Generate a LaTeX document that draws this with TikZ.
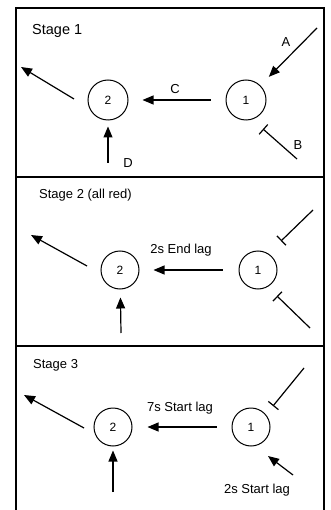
\documentclass[tikz,border=0pt]{standalone}
\usepackage{fontspec}
\setmainfont{Liberation Sans}
\usetikzlibrary{arrows.meta}
\begin{document}
\begin{tikzpicture}[x=1pt,y=-1pt,
  frame/.style={line width=1.3pt},
  arr/.style={line width=1.2pt,-{Triangle[length=11pt,width=9pt]}},
  tbar/.style={line width=1.2pt,-{Bar[width=13pt,line width=1.2pt]}},
  junc/.style={draw,circle,line width=1pt,minimum size=38pt,inner sep=0pt,font=\fontsize{12}{14}\selectfont},
  lbl/.style={font=\fontsize{13}{15}\selectfont,inner sep=0pt},
  title/.style={font=\fontsize{13}{15}\selectfont,inner sep=0pt,anchor=west}]
\useasboundingbox (0,0) rectangle (330,510);
% frame
\draw[frame] (16,512) -- (16,8) -- (324,8) -- (324,512);
\draw[frame] (16,177) -- (324,177);
\draw[frame] (16,346) -- (324,346);

% ---------- Stage 1 ----------
\node[title,font=\fontsize{14.5}{17}\selectfont] (t1) at (32,31) {Stage 1};
\node[junc,minimum size=40pt] (a2) at (108,100) {2};
\node[junc,minimum size=40pt] (a1) at (246,100) {1};
\draw[arr,shorten <=15pt,shorten >=14pt] (a1) -- (a2);
\node[lbl] (lC) at (175,89) {C};
\coordinate (aUL1) at (74,99);
\coordinate (aUL2) at (21,67);
\draw[arr] (aUL1) -- (aUL2);
\coordinate (aD) at (108,163);
\draw[arr,shorten >=6pt] (aD) -- (a2);
\node[lbl] (lD) at (128,163) {D};
\coordinate (aA) at (317,28);
\draw[arr,shorten >=12pt] (aA) -- (a1);
\node[lbl] (lA) at (286,42) {A};
\coordinate (aB1) at (297,159);
\coordinate (aB2) at (263,129);
\draw[tbar] (aB1) -- (aB2);
\node[lbl] (lB) at (298,145) {B};

% ---------- Stage 2 ----------
\node[title] (t2) at (39,195) {Stage 2 (all red)};
\node[junc] (b2) at (120,270) {2};
\node[junc] (b1) at (258,270) {1};
\draw[arr,shorten <=16pt,shorten >=14pt] (b1) -- (b2);
\node[lbl] (lE) at (181,250) {2s End lag};
\coordinate (bUL1) at (87,266);
\coordinate (bUL2) at (31,235);
\draw[arr] (bUL1) -- (bUL2);
\coordinate (bD) at (121,333);
\draw[arr,shorten >=8pt] (bD) -- (b2);
\coordinate (bR1) at (313,210);
\coordinate (bR2) at (281,241);
\draw[tbar] (bR1) -- (bR2);
\coordinate (bS1) at (310,328);
\coordinate (bS2) at (277,296);
\draw[tbar] (bS1) -- (bS2);

% ---------- Stage 3 ----------
\node[title] (t3) at (33,365) {Stage 3};
\node[junc] (c2) at (113,427) {2};
\node[junc] (c1) at (251,427) {1};
\draw[arr,shorten <=15pt,shorten >=15pt] (c1) -- (c2);
\node[lbl] (lS) at (180,408) {7s Start lag};
\coordinate (cUL1) at (84,428);
\coordinate (cUL2) at (24,395);
\draw[arr] (cUL1) -- (cUL2);
\coordinate (cD) at (113,492);
\draw[arr,shorten >=4pt] (cD) -- (c2);
\coordinate (cR1) at (304,368);
\coordinate (cR2) at (273,406);
\draw[tbar] (cR1) -- (cR2);
\coordinate (cS1) at (293,475);
\coordinate (cS2) at (268,456);
\draw[arr] (cS1) -- (cS2);
\node[lbl] (lS2) at (257,490) {2s Start lag};
\end{tikzpicture}
\end{document}
